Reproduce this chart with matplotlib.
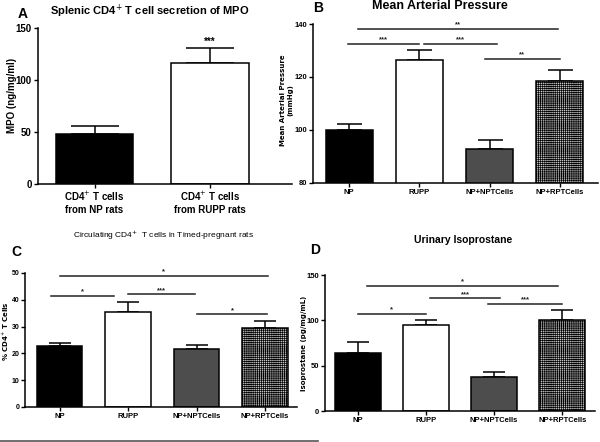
import matplotlib
matplotlib.use("Agg")
import matplotlib.pyplot as plt
import numpy as np

plt.rcParams['font.family'] = ['Liberation Sans Narrow', 'Liberation Sans', 'DejaVu Sans']
plt.rcParams['hatch.linewidth'] = 0.5
plt.rcParams['hatch.color'] = '#858585'

# panel A
a_labels = ['CD4$^{+}$ T cells\nfrom NP rats', 'CD4$^{+}$ T cells\nfrom RUPP rats']
a_vals = [48, 116]
a_errs = [8, 15]

groups = ['NP', 'RUPP', 'NP+NPTCells', 'NP+RPTCells']
# panel B
b_vals = [100, 126.5, 92.8, 118.5]
b_errs = [2.3, 3.8, 3.5, 4.1]
b_sig = [(0.13, 2.97, 138.1, '**'), (-0.01, 1.0, 132.5, '***'),
         (1.06, 2.10, 132.5, '***'), (1.93, 3.0, 126.8, '**')]
# panel C
c_vals = [22.7, 35.6, 21.6, 29.4]
c_errs = [1.1, 3.6, 1.4, 2.6]
c_sig = [(0.0, 3.04, 49, '*'), (-0.12, 0.8, 41.5, '*'),
         (1.0, 1.98, 42, '***'), (2.01, 3.03, 34.7, '*')]
# panel D
d_vals = [64.5, 94.5, 37, 100.5]
d_errs = [11.5, 6, 5.5, 10.5]
d_sig = [(0.14, 2.94, 138.2, '*'), (1.06, 2.09, 124.2, '***'),
         (1.91, 3.0, 118, '***'), (0.0, 1.0, 106.9, '*')]

colors = ['black', 'white', '#4d4d4d', '#c8c8c8']
hatches = [None, None, None, '++++++++']

fig = plt.figure(figsize=(6, 4.42), dpi=100)


def style(ax, fs=6.5, pad=1.5):
    for s in ['top', 'right']:
        ax.spines[s].set_visible(False)
    for s in ['left', 'bottom']:
        ax.spines[s].set_linewidth(1.1)
    ax.tick_params(direction='out', width=1.0, length=3, labelsize=fs, pad=pad)
    for t in ax.get_xticklabels() + ax.get_yticklabels():
        t.set_fontweight('bold')


def bars(ax, vals, errs, cols, hat, width, capsize):
    x = np.arange(len(vals))
    for i in x:
        ax.bar(i, vals[i], width=width, color=cols[i], edgecolor='black',
               linewidth=1.1, hatch=hat[i], zorder=2)
    ax.errorbar(x, vals, yerr=[np.zeros(len(vals)), errs], fmt='none',
                ecolor='black', elinewidth=1.1, capsize=capsize, capthick=1.1, zorder=1)
    return x


def sig(ax, items, dy):
    for x1, x2, y, lab in items:
        ax.plot([x1, x2], [y, y], color='#222222', lw=1.1, clip_on=False)
        ax.text((x1 + x2) / 2, y + dy, lab, ha='center', va='center', fontsize=5.5,
                fontweight='bold', color='#222222')


# A
axA = fig.add_axes([0.0633, 0.5837, 0.4233, 0.353])
x = bars(axA, a_vals, a_errs, ['black', 'white'], [None, None], 0.67, 17)
axA.set_xlim(-0.49, 1.71)
axA.set_ylim(0, 150)
axA.set_yticks([0, 50, 100, 150])
axA.set_xticks(x)
axA.set_xticklabels(a_labels)
axA.set_ylabel('MPO (ng/mg/ml)', fontsize=7, fontweight='bold')
axA.yaxis.set_label_coords(-0.083, 0.57)
style(axA, 7)
axA.text(1, a_vals[1] + a_errs[1] + 6, '***', ha='center', va='center', fontsize=7, fontweight='bold')
fig.text(0.25, 0.975, 'Splenic CD4$^{+}$ T cell secretion of MPO', ha='center', va='center',
         fontsize=8, fontweight='bold')
fig.text(0.037, 0.968, 'A', ha='center', va='center', fontsize=10, fontweight='bold')

# B
axB = fig.add_axes([0.5217, 0.586, 0.475, 0.3597])
x = bars(axB, b_vals, b_errs, colors, hatches, 0.67, 9)
axB.set_xlim(-0.514, 3.543)
axB.set_ylim(80, 140)
axB.set_yticks([80, 100, 120, 140])
axB.set_xticks(x)
axB.set_xticklabels(groups)
style(axB, 5.5, pad=1)
sig(axB, b_sig, 1.6)
axB.set_ylabel('Mean Arterial Pressure\n(mmHg)', fontsize=5, fontweight='bold',
               family=['DejaVu Sans'])
axB.yaxis.set_label_coords(-0.07, 0.52)
fig.text(0.733, 0.986, 'Mean Arterial Pressure', ha='center', va='center',
         fontsize=9, fontweight='bold')
fig.text(0.53, 0.982, 'B', ha='center', va='center', fontsize=10, fontweight='bold')

# C
axC = fig.add_axes([0.0417, 0.0792, 0.4533, 0.3032])
x = bars(axC, c_vals, c_errs, colors, hatches, 0.67, 8)
axC.set_xlim(-0.504, 3.467)
axC.set_ylim(0, 50)
axC.set_yticks(range(0, 51, 10))
axC.set_xticks(x)
axC.set_xticklabels(groups)
style(axC, 5.5, pad=1)
axC.tick_params(axis='y', labelsize=5)
sig(axC, c_sig, 1.4)
axC.set_ylabel('% CD4$^{+}$ T Cells', fontsize=5, fontweight='bold',
               family=['DejaVu Sans'])
axC.yaxis.set_label_coords(-0.05, 0.57)
fig.text(0.272, 0.468, 'Circulating CD4$^{+}$  T cells in Timed-pregnant rats', ha='center',
         va='center', fontsize=6)
fig.text(0.028, 0.43, 'C', ha='center', va='center', fontsize=10, fontweight='bold')

# D
axD = fig.add_axes([0.5417, 0.0701, 0.45, 0.3077])
x = bars(axD, d_vals, d_errs, colors, hatches, 0.68, 8)
axD.set_xlim(-0.48, 3.48)
axD.set_ylim(0, 150)
axD.set_yticks([0, 50, 100, 150])
axD.set_xticks(x)
axD.set_xticklabels(groups)
style(axD, 5.5, pad=1)
sig(axD, d_sig, 4.5)
axD.set_ylabel('Isoprostane (pg/mg/mL)', fontsize=5, fontweight='bold',
               family=['DejaVu Sans'])
axD.yaxis.set_label_coords(-0.068, 0.5)
fig.text(0.772, 0.457, 'Urinary Isoprostane', ha='center', va='center',
         fontsize=7.5, fontweight='bold')
fig.text(0.525, 0.434, 'D', ha='center', va='center', fontsize=10, fontweight='bold')

# separator line at the bottom
fig.add_artist(plt.Line2D([0.0, 0.53], [0.003, 0.003], color='#555555', lw=1.2))

fig.savefig('out.png', dpi=100)
